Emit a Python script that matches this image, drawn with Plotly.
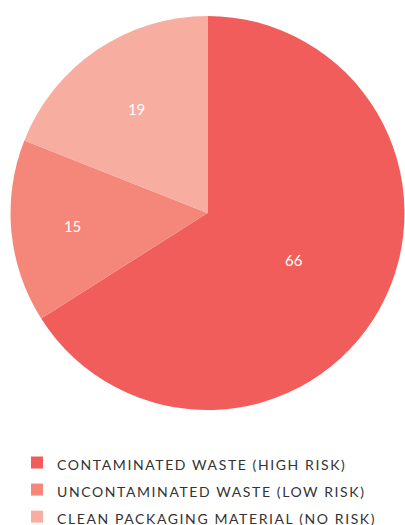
import plotly.graph_objects as go

labels = ["CONTAMINATED WASTE (HIGH RISK)", "UNCONTAMINATED WASTE (LOW RISK)", "CLEAN PACKAGING MATERIAL (NO RISK)"]
values = [66, 15, 19]
colors = ["#F05D5A", "#F4877A", "#F7AD9F"]

legend_labels = [
    '<span style="font-size:14px;letter-spacing:1.6px">' + l + '</span>' for l in labels
]

fig = go.Figure(go.Pie(
    labels=legend_labels,
    values=values,
    sort=False,
    direction="clockwise",
    rotation=0,
    marker=dict(colors=colors, line=dict(width=0)),
    textinfo="value",
    textposition="inside",
    insidetextfont=dict(color="white", size=15, family="Lato"),
    insidetextorientation="horizontal",
    hoverinfo="skip",
))

fig.update_layout(
    width=405, height=525,
    margin=dict(l=10, r=0, t=16, b=115, autoexpand=False),
    paper_bgcolor="white",
    plot_bgcolor="white",
    showlegend=True,
    legend=dict(
        orientation="v",
        xref="container", x=17 / 405, xanchor="left",
        yref="container", y=1 - 444 / 525, yanchor="top",
        font=dict(family="Lato", size=18.5, color="#333333"),
        tracegroupgap=0,
        bgcolor="rgba(0,0,0,0)",
    ),
)

fig.write_html(
    "out.html",
    config={"displayModeBar": False},
    post_script="document.body.style.margin='0';document.body.style.overflow='hidden';",
)
